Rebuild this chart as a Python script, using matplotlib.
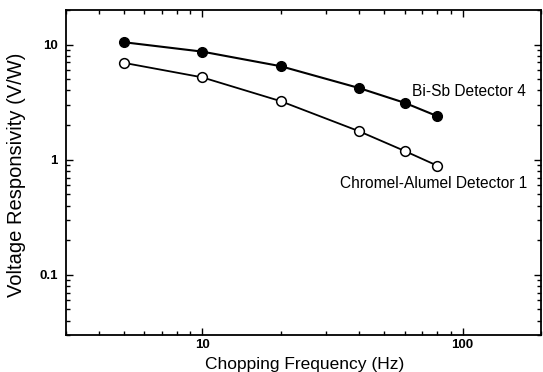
import matplotlib
matplotlib.use("Agg")
import matplotlib.pyplot as plt
from matplotlib.ticker import LogLocator, NullFormatter, FixedLocator, FixedFormatter

freq = [5, 10, 20, 40, 60, 80]
bisb = [10.5, 8.7, 6.5, 4.2, 3.12, 2.39]
chromel = [6.95, 5.2, 3.23, 1.77, 1.19, 0.887]

plt.rcParams['font.family'] = ['Liberation Sans', 'DejaVu Sans']

W, H = 543, 372
fig = plt.figure(figsize=(W / 100, H / 100), dpi=100)
ax = fig.add_axes([66 / W, 1 - 335 / H, (541 - 66) / W, (335 - 10) / H])

ax.plot(freq, bisb, '-', color='black', lw=1.5, marker='o', ms=7,
        mfc='black', mec='black')
ax.plot(freq, chromel, '-', color='black', lw=1.3, marker='o', ms=7,
        mfc='white', mec='black', mew=1.1)

ax.set_xscale('log')
ax.set_yscale('log')
ax.set_xlim(3, 200)
ax.set_ylim(0.03, 20)

ax.xaxis.set_major_locator(FixedLocator([10, 100]))
ax.xaxis.set_major_formatter(FixedFormatter(['10', '100']))
ax.xaxis.set_minor_locator(LogLocator(base=10, subs=range(2, 10)))
ax.xaxis.set_minor_formatter(NullFormatter())
ax.yaxis.set_major_locator(FixedLocator([0.1, 1, 10]))
ax.yaxis.set_major_formatter(FixedFormatter(['0.1', '1', '10']))
ax.yaxis.set_minor_locator(LogLocator(base=10, subs=range(2, 10)))
ax.yaxis.set_minor_formatter(NullFormatter())

ax.tick_params(which='both', direction='in', top=True, right=True, width=1)
ax.tick_params(which='major', length=5, labelsize=9.5)
ax.tick_params(axis='x', which='major', pad=3)
ax.tick_params(axis='y', which='major', pad=6)
ax.tick_params(which='minor', length=3)
for lab in ax.get_xticklabels() + ax.get_yticklabels():
    lab.set_fontweight('bold')
for s in ax.spines.values():
    s.set_linewidth(1.3)

ax.set_xlabel('Chopping Frequency (Hz)', fontsize=12.5, va='center')
ax.xaxis.set_label_coords((304.5 - 66) / (541 - 66), -(364 - 335) / (335 - 10))
ax.set_ylabel('Voltage Responsivity (V/W)', fontsize=14.5, va='center')
ax.yaxis.set_label_coords(-(66 - 17) / (541 - 66), (335 - 175) / (335 - 10))

ax.text(412, H - 92, 'Bi-Sb Detector 4', transform=None, fontsize=11.2,
        va='center', ha='left')
ax.text(340, H - 184, 'Chromel-Alumel Detector 1', transform=None, fontsize=11.2,
        va='center', ha='left')

fig.savefig('out.png', dpi=100)
